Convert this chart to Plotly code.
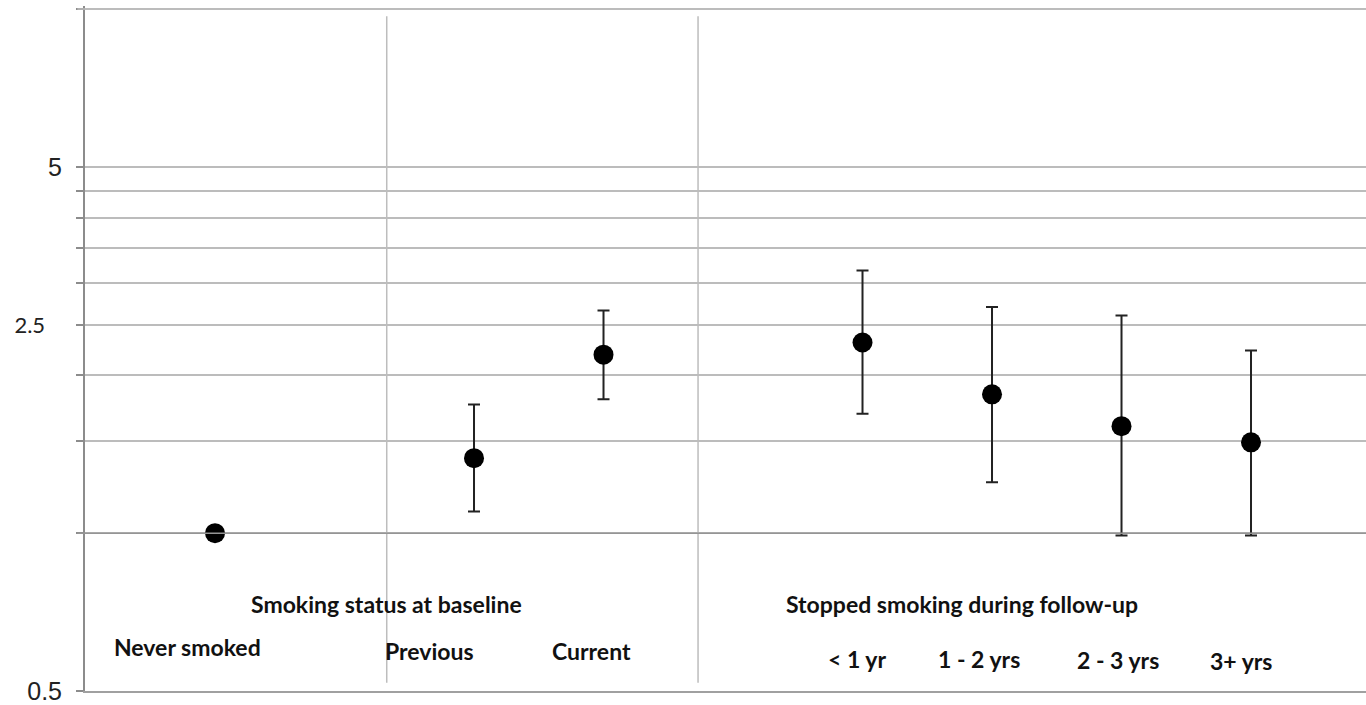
import plotly.graph_objects as go

# ---- data ----
categories = ["Never smoked", "Previous", "Current", "< 1 yr", "1 - 2 yrs", "2 - 3 yrs", "3+ yrs"]
x_pos = [0, 2, 3, 5, 6, 7, 8]
hr = [1.00, 1.39, 2.19, 2.31, 1.84, 1.60, 1.49]
ci_low = [1.00, 1.10, 1.80, 1.69, 1.25, 0.99, 0.99]
ci_high = [1.00, 1.76, 2.66, 3.17, 2.70, 2.60, 2.23]

group_labels = ["Smoking status at baseline", "Stopped smoking during follow-up"]
group_label_x = [1.326, 5.768]
separator_x = [1.326, 3.73]

cat_label_x = [-0.212, 1.658, 2.91, 4.96, 5.90, 6.97, 7.92]
cat_label_y = [0.0643, 0.0585, 0.0585, 0.0468, 0.0468, 0.0453, 0.0438]

grid_vals = [0.5, 1, 1.5, 2, 2.5, 3, 3.5, 4, 4.5, 5, 10]
tick_text = {0.5: "0.5",
             2.5: "<span style='font-family:Lato;font-size:22px'>2.5\u00a0\u00a0\u00a0</span>",
             5: "5"}
top_value = 10

err_plus = [h - m for h, m in zip(ci_high, hr)]
err_minus = [m - l for m, l in zip(hr, ci_low)]

fig = go.Figure()
fig.add_trace(go.Scatter(
    x=x_pos, y=hr, mode="markers",
    marker=dict(size=20, color="black"),
    error_y=dict(type="data", symmetric=False, array=err_plus, arrayminus=err_minus,
                 color="#222222", thickness=2, width=6, visible=True),
    showlegend=False, hoverinfo="skip",
))

shapes = []
for sx in separator_x:
    shapes.append(dict(type="line", xref="x", yref="paper", x0=sx, x1=sx, y0=0.012, y1=0.985,
                       line=dict(color="#bdbdbd", width=1.5)))
shapes.append(dict(type="line", xref="paper", yref="y", x0=-0.006, x1=1, y0=1, y1=1,
                   line=dict(color="#959595", width=1.5)))
shapes.append(dict(type="line", xref="paper", yref="y", x0=-0.006, x1=1, y0=top_value, y1=top_value,
                   line=dict(color="#bcbcbc", width=1.5)))
fig.update_layout(shapes=shapes)

annotations = []
for t, gx in zip(group_labels, group_label_x):
    annotations.append(dict(x=gx, y=0.127, xref="x", yref="paper", text="<b>" + t + "</b>",
                            showarrow=False, xanchor="center", yanchor="middle",
                            font=dict(family="Lato", size=23, color="#111111")))
for t, cx, cy in zip(categories, cat_label_x, cat_label_y):
    annotations.append(dict(x=cx, y=cy, xref="x", yref="paper", text="<b>" + t + "</b>",
                            showarrow=False, xanchor="center", yanchor="middle",
                            font=dict(family="Lato", size=23, color="#111111")))
fig.update_layout(annotations=annotations)

fig.update_layout(
    width=1366, height=705,
    margin=dict(l=85, r=0, t=6, b=12),
    paper_bgcolor="white", plot_bgcolor="white",
    xaxis=dict(range=[-1.004, 8.888], showgrid=False, zeroline=False, showticklabels=False,
               showline=True, linecolor="#a0a0a0", linewidth=1.5, ticks=""),
    yaxis=dict(type="log", range=[-0.3012, 1.0057],
               tickvals=grid_vals,
               ticktext=[tick_text.get(v, "") for v in grid_vals],
               showgrid=True, gridcolor="#bcbcbc", gridwidth=1.5,
               showline=True, linecolor="#8c8c8c", linewidth=2,
               ticks="outside", ticklen=7, tickcolor="#8c8c8c", tickwidth=1.5,
               ticklabelstandoff=9, ticklabeloverflow="allow",
               tickfont=dict(family="Liberation Sans, Arial", size=25, color="#222222"),
               zeroline=False),
)

fig.write_html("out.html")
